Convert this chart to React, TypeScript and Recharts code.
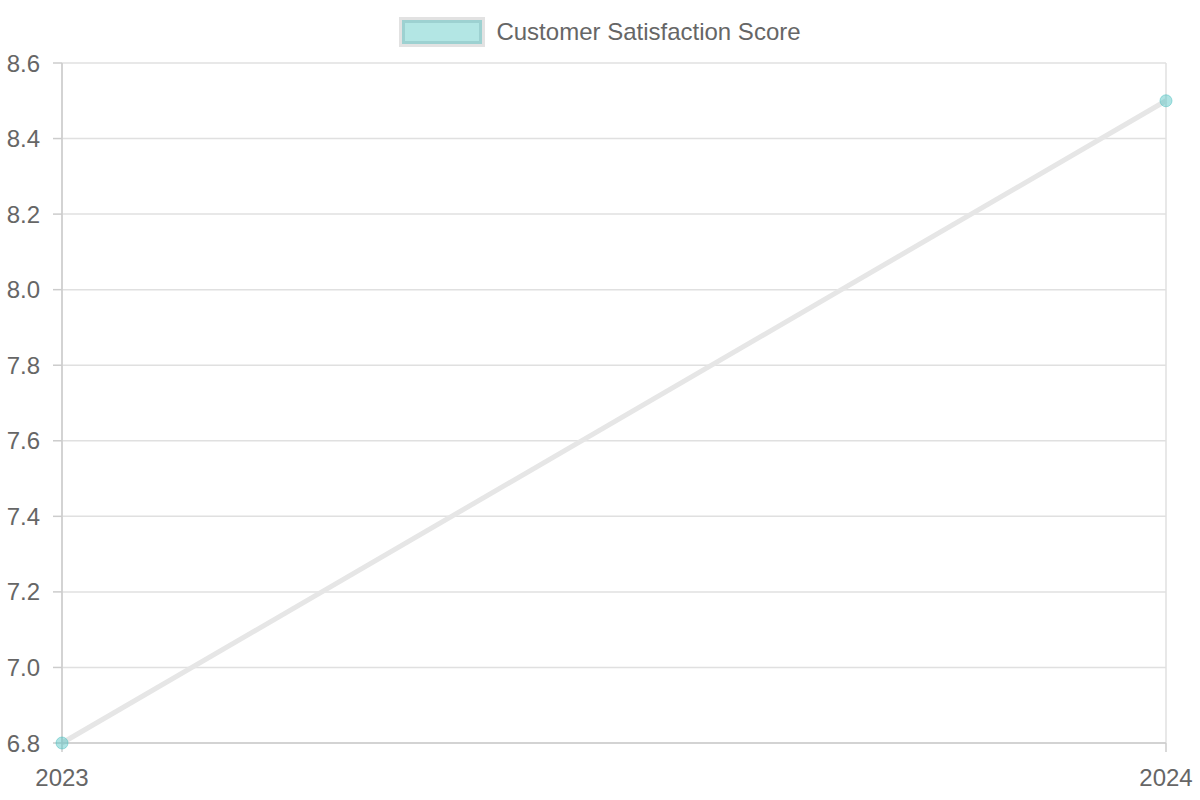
import React from 'react';
import { LineChart, Line, XAxis, YAxis, CartesianGrid } from 'recharts';

const years = ['2023', '2024'];
const scores = [6.8, 8.5];
const seriesName = 'Customer Satisfaction Score';
const yTicks = [6.8, 7.0, 7.2, 7.4, 7.6, 7.8, 8.0, 8.2, 8.4, 8.6];

const data = years.map((year, i) => ({ year, score: scores[i] }));

const FONT = '"Liberation Sans", Arial, sans-serif';

const App: React.FC = () => {
  return (
    <div style={{ position: 'relative', width: 1200, height: 800, fontFamily: FONT }}>
      <style>{'body{margin:0}'}</style>
      <div
        style={{
          position: 'absolute',
          top: 18,
          left: 0,
          width: 1200,
          display: 'flex',
          justifyContent: 'center',
          alignItems: 'center',
          gap: 11,
        }}
      >
        <div
          style={{
            width: 74,
            height: 18,
            background: '#b3e6e4',
            border: '3px solid #9dd1d1',
            outline: '3px solid #e2e2e2',
            boxSizing: 'content-box',
            marginLeft: 3,
            marginRight: 3,
          }}
        />
        <span style={{ fontSize: 24, color: '#666' }}>{seriesName}</span>
      </div>
      <LineChart
        width={1200}
        height={800}
        data={data}
        margin={{ top: 63, right: 34, bottom: 0, left: 0 }}
      >
        <CartesianGrid stroke="#e0e0e0" strokeWidth={1.5} />
        <XAxis
          dataKey="year"
          height={57}
          tickSize={9}
          tickMargin={17}
          stroke="#cccccc"
          strokeWidth={1.5}
          tick={{ fill: '#666', fontSize: 24, fontFamily: FONT }}
        />
        <YAxis
          width={62}
          domain={[6.8, 8.6]}
          ticks={yTicks}
          tickFormatter={(v: number) => v.toFixed(1)}
          tickSize={9}
          tickMargin={13}
          stroke="#cccccc"
          strokeWidth={1.5}
          tick={{ fill: '#666', fontSize: 24, fontFamily: FONT }}
        />
        <Line
          type="linear"
          dataKey="score"
          name={seriesName}
          stroke="#e6e6e6"
          strokeWidth={5}
          dot={{ r: 6, fill: '#4bc0c0', fillOpacity: 0.45, stroke: '#4bc0c0', strokeOpacity: 0.5, strokeWidth: 1 }}
          isAnimationActive={false}
        />
      </LineChart>
    </div>
  );
};

export default App;
